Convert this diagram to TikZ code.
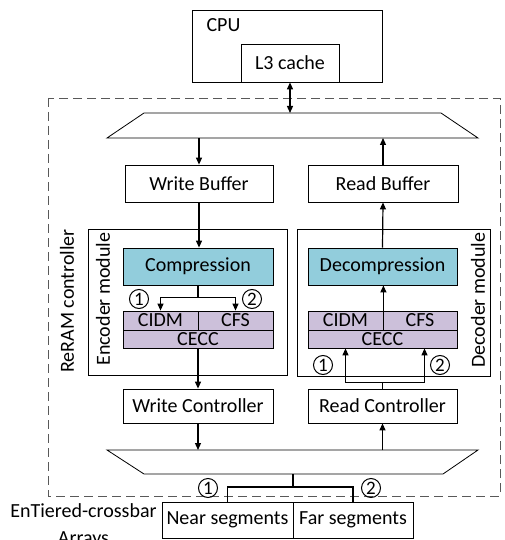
\documentclass[tikz,border=0pt]{standalone}
\usepackage{fontspec}
\setmainfont{Carlito}
\usepackage{xcolor}
\usetikzlibrary{positioning,shapes,arrows.meta}
\definecolor{compfill}{HTML}{92CDDC}
\definecolor{codefill}{HTML}{CCC0DA}

\begin{document}
\begin{tikzpicture}[x=1pt,y=-1pt,>={Triangle[length=7pt,width=6pt]}]
\useasboundingbox (0,0) rectangle (504,540);
\tikzstyle{every node}=[font=\fontsize{20}{23}\selectfont];
\tikzstyle{blk}=[draw,line width=0.8pt,inner sep=0pt,minimum height=37pt];
\tikzstyle{sub}=[blk,fill=codefill,minimum height=19pt];
\tikzstyle{num}=[draw,shape=circle,line width=1pt,inner sep=0pt,minimum size=19pt,font=\fontsize{19}{19}\selectfont];
\tikzstyle{wire}=[line width=1.2pt];

% controller region
\draw[dash pattern=on 9pt off 5pt,line width=0.9pt,black!65] (48,98) rectangle (500,496);

% CPU
\draw node[blk,minimum width=190pt,minimum height=72pt] (cpu) at (287,46) {};
\draw node[anchor=base west] (cpulbl) at (203,32) {CPU};
\draw node[blk,minimum width=98pt,minimum height=38pt] (l3) at (290,63) {L3 cache};

% upper and lower muxes
\draw[line width=0.8pt,fill=white] (144,113) -- (441,113) -- (478,138) -- (107,138) -- cycle;
\draw[line width=0.8pt,fill=white] (107,450) -- (478,450) -- (443,474) -- (144,474) -- cycle;
\coordinate (utop) at (290,113);
\coordinate (ubot) at (0,138);
\coordinate (ltop) at (0,450);
\coordinate (lbot) at (293,474);

% buffers
\draw node[blk,minimum width=148pt] (wb) at (199,183.5) {Write Buffer};
\draw node[blk,minimum width=150pt] (rb) at (383,183.5) {Read Buffer};

% encoder / decoder modules
\draw node[blk,minimum width=199pt,minimum height=146pt] (enc) at (187.5,302) {};
\draw node[blk,minimum width=193pt,minimum height=147pt] (dec) at (393.5,302.5) {};
\draw node[rotate=90] (enclbl) at (103,299) {Encoder module};
\draw node[rotate=90] (declbl) at (478,300) {Decoder module};
\draw node[rotate=90] (ctrllbl) at (67,301) {ReRAM controller};

\draw node[blk,fill=compfill,minimum width=150pt] (comp) at (198,266.5) {Compression};
\draw node[sub,minimum width=75pt] (ecidm) at (160.5,320.5) {CIDM};
\draw node[sub,minimum width=75pt] (ecfs) at (235.5,320.5) {CFS};
\draw node[sub,minimum width=150pt,minimum height=18pt] (ececc) at (198,339) {CECC};

\draw node[blk,fill=compfill,minimum width=149pt] (dcomp) at (382.5,266.5) {Decompression};
\draw node[sub,minimum width=75pt] (dcidm) at (345.5,320.5) {CIDM};
\draw node[sub,minimum width=74pt] (dcfs) at (420,320.5) {CFS};
\draw node[sub,minimum width=149pt,minimum height=18pt] (dcecc) at (382.5,339) {CECC};

% controllers
\draw node[blk,minimum width=150pt,minimum height=34pt] (wc) at (198,406) {Write Controller};
\draw node[blk,minimum width=149pt,minimum height=34pt] (rc) at (382.5,406) {Read Controller};

% crossbar arrays
\draw node[blk,minimum width=131pt,minimum height=36pt] (near) at (227.5,520) {Near segments};
\draw node[blk,minimum width=120pt,minimum height=36pt] (far) at (353,520) {Far segments};
\draw node[anchor=base,align=center,font=\fontsize{20}{27}\selectfont] (arrlbl) at (83.5,544) {EnTiered-crossbar\\Arrays};

% write path
\draw[wire,<->] (l3.south) -- (utop);
\draw[wire,->] (wb.north |- ubot) -- (wb.north);
\draw[wire,->] (wb.south) -- (wb.south |- comp.north);
\draw[wire] (comp.south) -- ++(0,12) coordinate (esplit);
\draw[wire,->] (esplit) -| (ecidm.north);
\draw[wire,->] (esplit) -| (ecfs.north);
\draw[wire,->] (ececc.south) -- (wc.north);
\draw[wire,->] (wc.south) -- (wc.south |- ltop);

% read path
\draw[wire,->] (rc.north |- ltop) -- (rc.south);
\draw[wire] (rc.north) -- ++(0,-6) coordinate (dsplit);
\draw[wire,->] (dsplit) -| ([xshift=-37pt]dcecc.south);
\draw[wire,->] (dsplit) -| ([xshift=42pt]dcecc.south);
\draw[wire,->] (dcidm.north east) -- (dcidm.north east |- dcomp.south);
\draw[wire,->] (dcomp.north) -- (rb.south);
\draw[wire,->] (rb.north) -- (rb.north |- ubot);

% array select
\draw[wire] (lbot) -- ++(0,13) coordinate (bsplit);
\draw[wire] (bsplit) -| (near.north);
\draw[wire] (bsplit) -| (far.north);

% numbered options
\draw node[num] (e1) at (139,299) {1};
\draw node[num] (e2) at (252,299) {2};
\draw node[num] (d1) at (323,365) {1};
\draw node[num] (d2) at (440,365) {2};
\draw node[num] (a1) at (208,488) {1};
\draw node[num] (a2) at (371,488) {2};
\end{tikzpicture}
\end{document}
